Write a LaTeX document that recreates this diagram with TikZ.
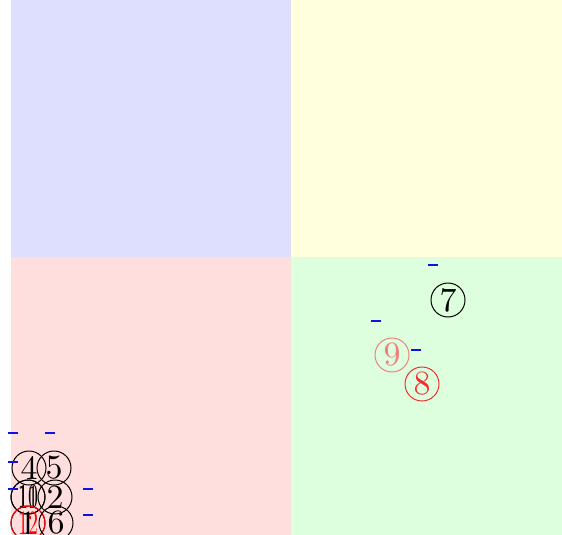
\documentclass[tikz,border=0pt]{standalone}
\usepackage{xcolor}
\usepackage{graphicx}
\definecolor{cBlueBg}{HTML}{DEDEFF}
\definecolor{cYellowBg}{HTML}{FFFFDE}
\definecolor{cRedBg}{HTML}{FFDEDE}
\definecolor{cGreenBg}{HTML}{DEFFDE}
\definecolor{cMark}{HTML}{1010E8}
\definecolor{cHot}{HTML}{F03030}
\definecolor{cSoft}{HTML}{F08080}
\usepackage{tikz}
\usetikzlibrary{positioning}
\tikzset{
  num-node/.style={draw,circle,line width=1pt,minimum size=34pt,inner sep=0pt},
  num-hot/.style={draw=cHot,text=cHot},
  num-red/.style={draw=red,text=red},
  num-soft/.style={draw=cSoft,text=cSoft},
  dash-mark/.style={fill=cMark,inner sep=0pt,minimum width=10pt,minimum height=1.8pt},
}
\newcommand{\bignum}[1]{\scalebox{3.4}{#1}}
\newcommand{\narrow}[1]{\scalebox{2.0}[3.4]{#1}}

\begin{document}
\begin{tikzpicture}[x=1pt,y=-1pt]
  \useasboundingbox (0,0) rectangle (562,535);
  % quadrants
  \fill[cBlueBg]   (11,0)    rectangle (291,257);
  \fill[cYellowBg] (291,0)   rectangle (562,257);
  \fill[cRedBg]    (11,257)  rectangle (291,535);
  \fill[cGreenBg]  (291,257) rectangle (562,535);

  % lower left cluster
  \node[num-node] (n4) at (29,468) {\bignum{4}};
  \node[num-node] (n5) at (54,468) {\bignum{5}};
  \node[num-node] (n10) at (28,497) {\narrow{10}};
  \node[num-node] (n11) at (28,497) {\narrow{11}};
  \node[num-node] (n2) at (55,497) {\bignum{2}};
  \node[num-node] (n1) at (28,523) {\bignum{1}};
  \node[num-node,num-red] (n12) at (28,523) {\narrow{12}};
  \node[num-node] (n6) at (56,523) {\bignum{6}};

  % lower right cluster
  \node[num-node] (n7) at (448,300) {\bignum{7}};
  \node[num-node,num-soft] (n9) at (392,355) {\bignum{9}};
  \node[num-node,num-hot] (n8) at (422,384) {\bignum{8}};

  % marks
  \node[dash-mark] (m1) at (13,433) {};
  \node[dash-mark] (m2) at (50,433) {};
  \node[dash-mark] (m3) at (13,462) {};
  \node[dash-mark] (m4) at (13,489) {};
  \node[dash-mark] (m5) at (88,489) {};
  \node[dash-mark] (m6) at (88,515) {};
  \node[dash-mark] (m7) at (433,265) {};
  \node[dash-mark] (m8) at (376,321) {};
  \node[dash-mark] (m9) at (416,350) {};
\end{tikzpicture}
\end{document}
